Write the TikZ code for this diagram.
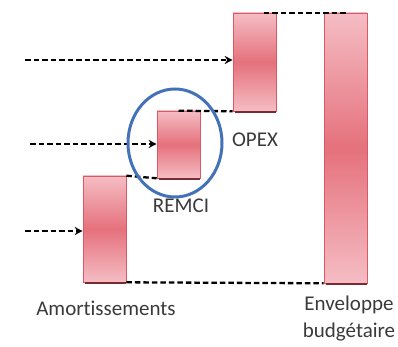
\documentclass[tikz,border=0pt]{standalone}
\usepackage{fontspec}
\setmainfont{Carlito}[Ligatures={NoCommon}]
\usetikzlibrary{arrows.meta,shapes.geometric}
\definecolor{barlight}{HTML}{F5BDC4}
\definecolor{barmid}{HTML}{E5717C}
\definecolor{baredge}{HTML}{D95A66}
\definecolor{barshadow}{HTML}{7A2A30}
\definecolor{ringblue}{HTML}{4472B8}
\definecolor{labelgray}{HTML}{3A3A3A}
\tikzset{
  bar/.style={rectangle, inner sep=0pt, minimum width=43pt, top color=barlight, bottom color=barlight, middle color=barmid, draw=baredge, line width=0.6pt},
  level/.style={draw=black, line width=2.3pt, dash pattern=on 5.5pt off 3pt},
  feed/.style={level, -{Stealth[length=8pt,width=8pt]}},
  lbl/.style={inner sep=0pt, anchor=base, text=labelgray, font=\fontsize{21}{25}\selectfont},
  shadowline/.style={draw=barshadow, line width=1.6pt}
}
\begin{document}
\begin{tikzpicture}[x=1pt,y=-1pt]
\useasboundingbox (0,0) rectangle (398,347);
% bars
\node[bar, minimum height=106pt] (amort) at (104.5,229) {};
\node[bar, minimum height=67pt] (remci) at (178.5,144.5) {};
\node[bar, minimum height=98pt] (opex) at (254.5,62) {};
\node[bar, minimum height=270pt] (env) at (345.5,148) {};
% bottom shadows
\foreach \b in {amort,remci,opex,env}{
  \draw[shadowline] ([xshift=2pt,yshift=-0.8pt]\b.south west) -- ([yshift=-0.8pt]\b.south east);
}
% free ends of feed arrows
\coordinate (fo) at (25,60);
\coordinate (fr) at (30,144);
\coordinate (fa) at (25,231);
% level lines
\draw[level] ([xshift=9pt]opex.north) -- (env.north);
\draw[level] (remci.north) -- (opex.south west);
\draw[level] (amort.north east) -- (remci.south west);
\draw[level] (amort.south east) -- (env.south west);
% feed arrows
\draw[feed] (fo) -- (opex.west |- fo);
\draw[feed] (fr) -- (remci.west |- fr);
\draw[feed] (fa) -- (amort.west |- fa);
% ring
\node[draw=ringblue, line width=3pt, ellipse, minimum width=94pt, minimum height=108pt, inner sep=0pt] (ring) at (175,143) {};
% labels
\node[lbl] (lopex) at (255,147) {OPEX};
\node[lbl] (lremci) at (181,212) {REMCI};
\node[lbl] (lamort) at (106,315) {Amortissements};
\node[lbl] (lenv1) at (349,310) {Enveloppe};
\node[lbl] (lenv2) at (349,337) {budgétaire};
\end{tikzpicture}
\end{document}
